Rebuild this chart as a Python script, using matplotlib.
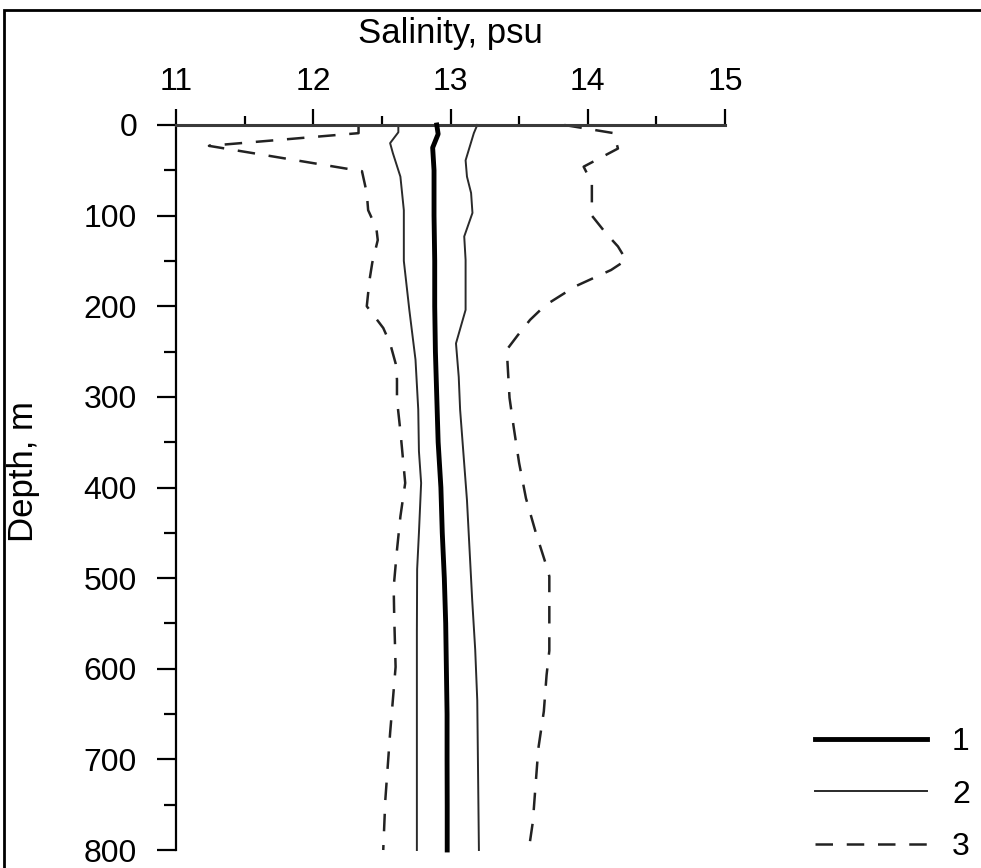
import matplotlib.pyplot as plt
from matplotlib.patches import Rectangle

plt.rcParams['font.family'] = ['Liberation Sans', 'DejaVu Sans']

# series 1 (mean, thick line)
depth_1 = [0, 10, 25, 50, 100, 150, 200, 250, 300, 350, 400, 450, 500, 550, 600, 650, 700, 750, 800]
sal_1 = [12.90, 12.91, 12.87, 12.88, 12.88, 12.885, 12.885, 12.89, 12.90, 12.91, 12.93, 12.94,
         12.955, 12.965, 12.97, 12.975, 12.975, 12.976, 12.976]

# series 2 (thin lines, left and right)
depth_2l = [0, 8, 20, 31, 57, 94, 150, 204, 259, 314, 360, 395, 450, 490, 560, 650, 800]
sal_2l = [12.62, 12.62, 12.56, 12.58, 12.635, 12.66, 12.66, 12.70, 12.745, 12.765, 12.77, 12.786,
          12.77, 12.757, 12.755, 12.755, 12.755]
depth_2r = [0, 9, 39, 57, 75, 97, 123, 149, 204, 241, 278, 314, 414, 524, 579, 635, 800]
sal_2r = [13.195, 13.17, 13.11, 13.12, 13.15, 13.16, 13.10, 13.11, 13.11, 13.04, 13.06, 13.07,
          13.12, 13.158, 13.18, 13.195, 13.207]

# series 3 (dashed, left and right)
depth_3l = [0, 9, 23, 51, 75, 94, 114, 127, 152, 171, 200, 224, 241, 263, 281, 303, 338, 395,
            432, 469, 510, 543, 598, 671, 745, 800]
sal_3l = [12.33, 12.33, 11.24, 12.355, 12.39, 12.40, 12.46, 12.47, 12.43, 12.41, 12.39, 12.51,
          12.56, 12.60, 12.61, 12.61, 12.635, 12.67, 12.635, 12.61, 12.586, 12.59, 12.60, 12.56,
          12.525, 12.51]
depth_3r = [0, 9, 26, 46, 64, 100, 119, 134, 149, 160, 178, 199, 215, 232, 248, 301, 333, 373,
            412, 449, 487, 498, 580, 607, 647, 688, 728, 769, 800]
sal_3r = [13.83, 14.19, 14.22, 13.97, 14.03, 14.03, 14.13, 14.22, 14.28, 14.17, 13.91, 13.69,
          13.58, 13.49, 13.41, 13.43, 13.46, 13.50, 13.55, 13.62, 13.70, 13.72, 13.72, 13.70,
          13.68, 13.64, 13.62, 13.60, 13.57]

x_ticks = [11, 12, 13, 14, 15]
y_ticks = [0, 100, 200, 300, 400, 500, 600, 700, 800]
legend_labels = ['1', '2', '3']

fs = 23
fig = plt.figure(figsize=(9.81, 8.68), dpi=100)
ax = fig.add_axes([176 / 981, 1 - 850 / 868, (725 - 176) / 981, 725 / 868])

l1, = ax.plot(sal_1, depth_1, color='black', lw=3.5, clip_on=False, zorder=4)
l2, = ax.plot(sal_2l, depth_2l, color='#2a2a2a', lw=1.4, clip_on=False)
ax.plot(sal_2r, depth_2r, color='#2a2a2a', lw=1.4, clip_on=False)
l3, = ax.plot(sal_3l, depth_3l, color='#222222', lw=1.8, dashes=(7, 5.5), clip_on=False)
ax.plot(sal_3r, depth_3r, color='#222222', lw=1.8, dashes=(7, 5.5), clip_on=False)

ax.set_xlim(11, 15)
ax.set_ylim(800, 0)
ax.xaxis.tick_top()
ax.xaxis.set_label_position('top')
ax.set_xticks(x_ticks)
ax.set_xticks([11.5, 12.5, 13.5, 14.5], minor=True)
ax.set_yticks(y_ticks)
ax.set_yticks([50, 150, 250, 350, 450, 550, 650, 750], minor=True)

for side in ['right', 'bottom']:
    ax.spines[side].set_visible(False)
ax.spines['top'].set_color('#3a3a3a')
ax.spines['top'].set_linewidth(2.2)
ax.spines['left'].set_linewidth(1.6)

ax.tick_params(which='both', labelsize=fs, width=1.6)
ax.tick_params(axis='y', which='major', length=14, pad=14)
ax.tick_params(axis='y', which='minor', length=8.5)
ax.tick_params(axis='x', which='major', length=11.5, pad=9)
ax.tick_params(axis='x', which='minor', length=6.5)

ax.set_xlabel('Salinity, psu', fontsize=25)
ax.set_ylabel('Depth, m', fontsize=25)
ax.xaxis.set_label_coords(0.5, 1 + (125 - 33) / 725)
ax.xaxis.label.set_va('center')
ax.yaxis.set_label_coords((24 - 176) / 549, 1 - (472 - 125) / 725)
ax.yaxis.label.set_va('center')

fig.legend([l1, l2, l3], legend_labels, loc='lower right',
           bbox_to_anchor=(970 / 981, 6 / 868), borderpad=0, borderaxespad=0,
           frameon=False, fontsize=fs, handlelength=3.5, handletextpad=0.8, labelspacing=0.7)

# frame around the figure
fig.patches.append(Rectangle((4 / 981, -0.05), 1.0, 1.05 - 10 / 868,
                             transform=fig.transFigure, fill=False, lw=2, ec='black'))

fig.savefig('out.png', dpi=100)
